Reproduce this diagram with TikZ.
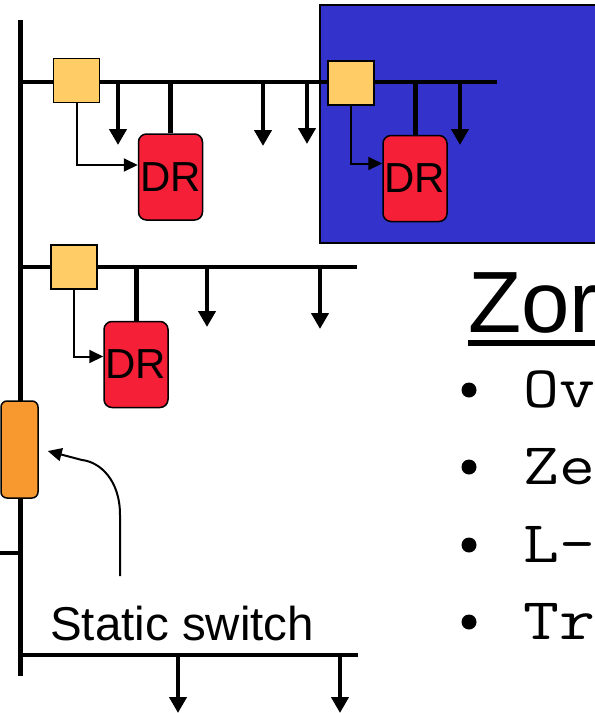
\documentclass[tikz,border=0pt]{standalone}
\usepackage{fontspec}
\setmainfont{Liberation Sans}
\newfontfamily\monofont[FakeStretch=1.18]{Latin Modern Mono}
\usetikzlibrary{calc, arrows.meta}

\definecolor{zoneblue}{HTML}{3333CC}
\definecolor{sensyellow}{HTML}{FFCC66}
\definecolor{drred}{HTML}{F51F37}
\definecolor{swiorange}{HTML}{F7992E}

\tikzset{
  bus/.style={line width=5pt},
  feeder/.style={line width=4pt},
  load/.style={line width=4.5pt, -{Triangle[width=17pt,length=16pt]}},
  ctrl/.style={line width=2pt, -{Triangle[width=13pt,length=14pt]}},
  sensor/.style={draw, line width=1.5pt, fill=sensyellow, minimum width=46pt, minimum height=44pt, inner sep=0pt},
  drbox/.style={draw, line width=1.5pt, fill=drred, rounded corners=8pt, minimum width=64pt, minimum height=86pt, inner sep=0pt, font=\fontsize{42}{42}\selectfont},
  bullet/.style={circle, fill=black, minimum size=15pt, inner sep=0pt}
}

\begin{document}
\begin{tikzpicture}[x=1pt, y=-1pt]
  \useasboundingbox (0,0) rectangle (595,713);

  % zone
  \draw[line width=2pt, fill=zoneblue] (320,5) rectangle (610,243);

  % buses
  \coordinate (busTop) at (20,20);
  \coordinate (busBot) at (20,676);
  \coordinate (f1w) at (20,82);   \coordinate (f1e) at (497,82);
  \coordinate (f2w) at (20,267);  \coordinate (f2e) at (357,267);
  \coordinate (f3w) at (20,655);  \coordinate (f3e) at (358,655);
  \coordinate (stub) at (-5,553);
  \draw[bus] (busTop) -- (busBot);
  \draw[feeder] (f1w) -- (f1e);
  \draw[feeder] (f2w) -- (f2e);
  \draw[feeder] (f3w) -- (f3e);
  \draw[feeder] (stub) -- (stub -| busTop);

  % loads
  \foreach \x/\ya/\yb in {118/82/145, 263/82/146, 307/82/144, 460/82/145,
                          207/267/327, 320/267/329, 178/655/713, 340/655/713}
    \draw[load] (\x,\ya) -- (\x,\yb);

  % sensors and DR units
  \node[sensor] (s1) at (76.5,80.5) {};
  \node[sensor] (s2) at (351,83) {};
  \node[sensor] (s3) at (74,267) {};
  \node[drbox] (dr1) at (170.5,177) {DR};
  \node[drbox] (dr2) at (415,178.5) {DR};
  \node[drbox] (dr3) at (136,364.5) {DR};

  \draw[feeder, line width=5pt] (dr1.north |- f1w) -- (dr1.north);
  \draw[feeder, line width=5pt] (dr2.north |- f1w) -- (dr2.north);
  \draw[feeder, line width=5pt] (dr3.north |- f2w) -- (dr3.north);

  \draw[ctrl] (s1.south) |- ($(dr1.west)+(0,-12)$);
  \draw[ctrl] (s2.south) |- ($(dr2.west)+(0,-15)$);
  \draw[ctrl] (s3.south) |- ($(dr3.west)+(0,-8)$);

  % static switch
  \node[draw, line width=1.5pt, fill=swiorange, rounded corners=6pt, minimum width=37pt, minimum height=97pt] (sw) at (19.5,449.5) {};
  \node[anchor=base west, inner sep=0pt, font=\fontsize{47.5}{47.5}\selectfont] (sslabel) at (50,640) {Static switch};
  \coordinate (sstail) at (120,576);
  \draw[ctrl] (sstail) -- (120,515) .. controls (120,480) and (100,462) .. (82,460) -- ($(sw.east)+(9,1.5)$);

  % text
  \node[anchor=base west, inner sep=0pt, font=\fontsize{87}{87}\selectfont] (zone) at (468,332) {Zor};
  \draw[line width=6pt] (zone.base west) ++(0,11) -- ++(150,0);
  \foreach \yy/\txt in {390/Ov, 467/Ze, 545/L-, 622/Tr} {
    \node[bullet] (b\txt) at (469,\yy) {};
    \node[anchor=base west, inner sep=0pt, font=\monofont\fontsize{59}{59}\selectfont] at (523,\yy+17) {\txt};
  }
\end{tikzpicture}
\end{document}
